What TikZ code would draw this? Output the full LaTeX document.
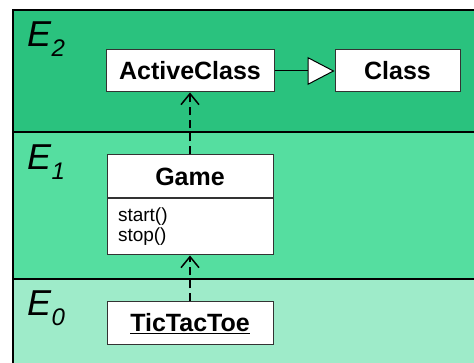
\documentclass[tikz,border=0pt]{standalone}
\usepackage{fontspec}
\setmainfont{Liberation Sans}
\usetikzlibrary{arrows.meta}
\definecolor{bandtwo}{RGB}{42,194,126}
\definecolor{bandone}{RGB}{85,222,160}
\definecolor{bandzero}{RGB}{158,235,201}
\newcommand{\levellabel}[1]{\textit{E}\raisebox{-10pt}{\fontsize{24}{24}\selectfont\textit{#1}}}

\begin{document}
\begin{tikzpicture}[x=1pt,y=1pt,
  classbox/.style={draw=black!80, fill=white, line width=1pt, inner sep=0pt,
    minimum width=166pt, minimum height=43pt, font=\fontsize{25}{30}\selectfont\bfseries},
  opsbox/.style={draw=black!80, fill=white, line width=1pt, inner sep=0pt,
    minimum width=166pt, minimum height=56pt, text width=144pt, align=left,
    font=\fontsize{19}{20}\selectfont},
  level/.style={anchor=base west, inner sep=0pt, font=\fontsize{36}{40}\selectfont},
  dep/.style={line width=1.5pt, dash pattern=on 8pt off 5pt,
    -{Straight Barb[length=11pt,width=18pt,line width=1.5pt]}},
  sep/.style={black, line width=1.5pt}]
\clip (0,0) rectangle (474,363);
% levels
\fill[bandtwo] (13,231) rectangle (490,353);
\fill[bandone] (13,84) rectangle (490,231);
\fill[bandzero] (13,-10) rectangle (490,84);
\draw[sep] (490,353) -- (13,353) -- (13,-10);
\draw[sep] (13,231) -- (490,231);
\draw[sep] (13,84) -- (490,84);
\node[level] (e2) at (27,316) {\levellabel{2}};
\node[level] (e1) at (27,193) {\levellabel{1}};
\node[level] (e0) at (27,47) {\levellabel{0}};
% classes
\node[classbox, minimum width=168pt, minimum height=42pt] (active) at (190,292) {ActiveClass};
\node[classbox, minimum width=125pt, minimum height=42pt] (class) at (397.5,292) {Class};
\node[classbox] (game) at (190,186.5) {Game};
\node[opsbox, anchor=north] (gameops) at (game.south) {start()\\stop()};
\node[classbox] (tictactoe) at (190,39.5) {\underline{TicTacToe}};
% relations
\draw[line width=1pt, -{Triangle[length=27pt,width=28pt,fill=white,line width=1pt]}] (active) -- (class);
\draw[dep] (game) -- (active);
\draw[dep] (tictactoe) -- (gameops);
\end{tikzpicture}
\end{document}
